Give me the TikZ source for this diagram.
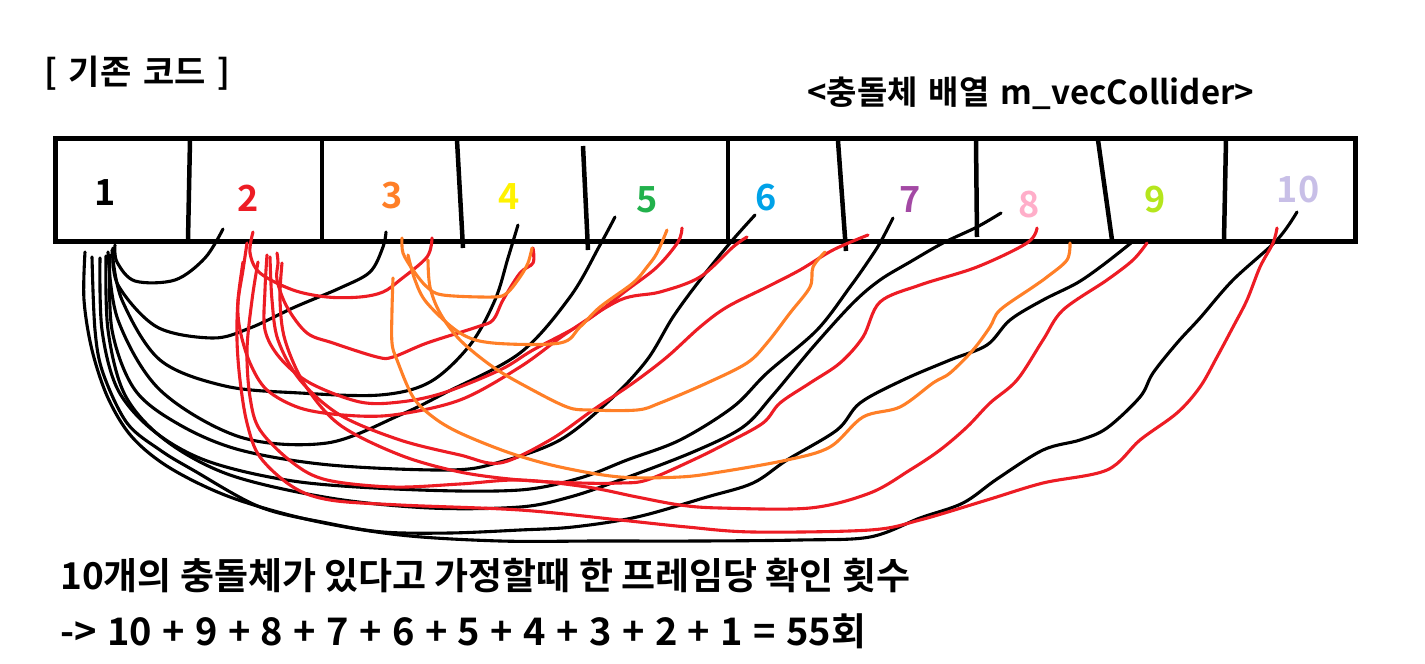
\documentclass[tikz,border=0pt]{standalone}
\usepackage{fontspec}
\newfontfamily\kr{Noto Sans CJK KR}[BoldFont={Noto Sans CJK KR Bold}]
\definecolor{pRed}{HTML}{ED1C24}
\definecolor{pOrange}{HTML}{FF7F27}
\definecolor{pYellow}{HTML}{FFF200}
\definecolor{pGreen}{HTML}{22B14C}
\definecolor{pBlue}{HTML}{00A2E8}
\definecolor{pPurple}{HTML}{A349A4}
\definecolor{pPink}{HTML}{FFAEC9}
\definecolor{pLime}{HTML}{B5E61D}
\definecolor{pLav}{HTML}{C8BFE7}
\tikzset{
	fromone/.style={draw=black, line width=3.1pt, line cap=round, line join=round},
	fromtwo/.style={draw=pRed, line width=3.1pt, line cap=round, line join=round},
	fromthree/.style={draw=pOrange, line width=3.1pt, line cap=round, line join=round},
	wall/.style={line width=4.5pt},
	cellnum/.style={font=\kr\bfseries\fontsize{36}{40}\selectfont, inner sep=0pt}
}
\begin{document}
\begin{tikzpicture}[x=1pt, y=-1pt]
	\useasboundingbox (0,0) rectangle (1425,664);
	% titles
	\node[anchor=base west, inner sep=0pt, font=\kr\bfseries\fontsize{34}{38}\selectfont] (title) at (44,84) {\makebox[186pt][s]{[ 기존 코드 ]}};
	\node[anchor=base west, inner sep=0pt, font=\kr\bfseries\fontsize{33}{36}\selectfont] (arr) at (807,104) {\makebox[447pt][s]{<충돌체 배열 m\_vecCollider>}};
	% the array
	\draw [line width=5pt] (55,138) rectangle (1355,241);
	\draw [wall] (190,140) -- (188,240);
	\draw [wall] (322,140) -- (322,240);
	\draw [wall] (457,140) -- (463,248);
	\draw [wall] (583,146) -- (588,250);
	\draw [wall] (728,140) -- (728,240);
	\draw [wall] (838,141) -- (846,251);
	\draw [wall] (976,140) -- (977,237);
	\draw [wall] (1098,140) -- (1112,240);
	\draw [wall] (1226,140) -- (1224,240);
	\foreach \i/\x/\y/\c in {1/105/193/black, 2/248/198/pRed, 3/392/196/pOrange, 4/509/197/pYellow, 5/647/200/pGreen, 6/766/198/pBlue, 7/910/200/pPurple, 8/1029/205/pPink, 9/1155/200/pLime, 10/1298/190/pLav}
		\node[cellnum, text=\c] (n\i) at (\x,\y) {\i};
	% checks of 1
	\draw [fromone] plot[smooth, tension=0.55] coordinates {(115,245) (117,262) (135,281) (175,280) (205,258) (223,229)};
	\draw [fromone] plot[smooth, tension=0.55] coordinates {(113,248) (118,285) (157,327) (213,338) (250,328) (295,307) (340,288) (370,272) (383,247) (386,232)};
	\draw [fromone] plot[smooth, tension=0.55] coordinates {(112,250) (122,300) (160,360) (225,386) (300,393) (380,395) (430,382) (470,345) (495,300) (508,258) (518,225)};
	\draw [fromone] plot[smooth, tension=0.55] coordinates {(108,252) (118,320) (160,390) (240,437) (327,443) (400,415) (445,393) (520,353) (570,297) (600,245) (615,217)};
	\draw [fromone] plot[smooth, tension=0.55] coordinates {(110,255) (112,330) (135,390) (180,425) (240,450) (330,465) (450,470) (500,462) (560,440) (610,400) (647,360) (673,317) (700,280) (730,243) (755,215)};
	\draw [fromone] plot[smooth, tension=0.55] coordinates {(100,258) (102,330) (118,390) (155,432) (210,462) (300,482) (420,490) (520,490) (580,478) (627,460) (680,440) (733,407) (767,373) (817,330) (850,287) (867,263) (880,243) (893,218)};
	\draw [fromone] plot[smooth, tension=0.55] coordinates {(106,256) (108,330) (125,395) (165,440) (230,475) (330,498) (430,508) (520,507) (570,497) (620,480) (693,452) (743,427) (773,395) (813,347) (853,303) (880,280) (910,262) (943,243) (977,227) (1001,213)};
	\draw [fromone] plot[smooth, tension=0.55] coordinates {(92,257) (95,330) (103,373) (127,423) (160,450) (193,470) (260,507) (327,523) (383,532) (450,533) (520,530) (573,527) (637,517) (707,497) (753,483) (787,460) (837,430) (860,403) (903,380) (950,360) (987,345) (1010,320) (1043,300) (1077,283) (1103,265) (1131,243)};
	\draw [fromone] plot[smooth, tension=0.55] coordinates {(85,252) (84,300) (92,350) (108,398) (132,437) (170,468) (230,497) (310,520) (400,535) (500,541) (600,541) (700,541) (800,540) (870,537) (920,518) (963,503) (997,479) (1043,450) (1080,440) (1107,428) (1140,397) (1153,373) (1177,343) (1200,318) (1233,280) (1277,240) (1297,212)};
	% checks of 2
	\draw [fromtwo] plot[smooth, tension=0.55] coordinates {(253,232) (250,253) (260,273) (293,290) (327,297) (360,297) (383,292) (400,280) (427,257) (432,238)};
	\draw [fromtwo] plot[smooth, tension=0.55] coordinates {(277,253) (278,263) (277,280) (287,307) (307,333) (333,343) (377,357) (393,357) (427,343) (477,327) (493,320) (503,300) (520,273) (533,263) (533,248)};
	\draw [fromtwo] plot[smooth, tension=0.55] coordinates {(267,255) (265,290) (265,330) (280,358) (310,383) (360,402) (400,402) (443,393) (500,370) (533,350) (583,323) (627,290) (657,267) (678,242) (682,228)};
	\draw [fromtwo] plot[smooth, tension=0.55] coordinates {(247,243) (243,270) (238,303) (240,330) (250,363) (267,390) (300,408) (343,415) (393,415) (460,400) (520,367) (567,333) (620,300) (660,292) (700,277) (733,247) (747,237)};
	\draw [fromtwo] plot[smooth, tension=0.55] coordinates {(270,257) (272,300) (278,340) (300,380) (340,415) (400,440) (460,455) (500,463) (550,440) (593,410) (633,383) (667,357) (700,327) (727,307) (767,287) (800,270) (833,250) (868,235)};
	\draw [fromtwo] plot[smooth, tension=0.55] coordinates {(282,263) (280,300) (285,340) (305,385) (340,425) (400,455) (460,472) (520,480) (580,483) (620,483) (647,480) (693,460) (727,443) (763,423) (780,403) (810,383) (840,363) (863,337) (880,302) (920,285) (977,267) (1027,243) (1037,228)};
	\draw [fromtwo] plot[smooth, tension=0.55] coordinates {(258,262) (252,300) (247,350) (250,397) (260,430) (293,463) (327,480) (393,487) (460,484) (520,480) (587,487) (637,497) (680,505) (720,508) (810,508) (870,493) (910,470) (940,450) (967,427) (990,403) (1017,380) (1043,340) (1063,310) (1107,280) (1133,260) (1147,243)};
	\draw [fromtwo] plot[smooth, tension=0.55] coordinates {(243,262) (238,300) (237,340) (240,380) (247,423) (260,457) (293,487) (330,500) (400,505) (520,510) (620,520) (687,527) (753,532) (870,530) (920,520) (987,500) (1043,483) (1107,470) (1140,440) (1177,413) (1200,387) (1217,357) (1233,327) (1247,300) (1260,267) (1273,243) (1277,228)};
	% checks of 3
	\draw [fromthree] plot[smooth, tension=0.55] coordinates {(402,238) (403,253) (413,270) (427,287) (443,295) (493,297) (507,293) (520,277) (528,263) (532,248)};
	\draw [fromthree] plot[smooth, tension=0.55] coordinates {(408,255) (415,280) (427,303) (460,333) (493,343) (560,343) (580,327) (600,307) (633,283) (647,267) (657,253) (667,230)};
	\draw [fromthree] plot[smooth, tension=0.55] coordinates {(428,260) (430,287) (440,313) (460,340) (493,367) (527,387) (567,407) (590,410) (637,410) (660,403) (707,383) (747,363) (767,343) (790,313) (810,287) (813,267) (825,252)};
	\draw [fromthree] plot[smooth, tension=0.55] coordinates {(393,278) (392,310) (392,343) (397,360) (413,397) (433,417) (460,433) (510,453) (560,467) (620,477) (680,477) (720,472) (787,460) (830,447) (863,417) (900,407) (933,383) (950,373) (973,350) (990,327) (1000,310) (1033,287) (1047,277) (1067,260) (1070,243)};
	% count
	\node[anchor=base west, inner sep=0pt, font=\kr\bfseries\fontsize{37}{40}\selectfont] (say) at (60,589) {\makebox[850pt][s]{10개의 충돌체가 있다고 가정할때 한 프레임당 확인 횟수}};
	\node[anchor=base west, inner sep=0pt, font=\kr\bfseries\fontsize{38}{42}\selectfont] (sum) at (60,645) {\makebox[806pt][s]{-> 10 + 9 + 8 + 7 + 6 + 5 + 4 + 3 + 2 + 1 = 55회}};
\end{tikzpicture}
\end{document}
